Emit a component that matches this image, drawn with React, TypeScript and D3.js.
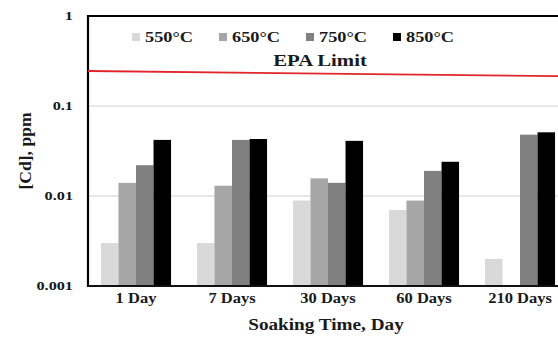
import React from "react";
import * as d3 from "d3";

const categories = ["1 Day", "7 Days", "30 Days", "60 Days", "210 Days"];
const seriesNames = ["550°C", "650°C", "750°C", "850°C"];
const seriesColors = ["#d9d9d9", "#a6a6a6", "#808080", "#000000"];
const s550 = [0.003, 0.003, 0.0089, 0.007, 0.002];
const s650 = [0.014, 0.013, 0.0157, 0.0089, null];
const s750 = [0.022, 0.042, 0.014, 0.019, 0.048];
const s850 = [0.042, 0.043, 0.041, 0.024, 0.051];
const seriesValues = [s550, s650, s750, s850];
const yTicks = [1, 0.1, 0.01, 0.001];
const yTickLabels = ["1", "0.1", "0.01", "0.001"];
const epaLimit = [0.245, 0.215];

const W = 558;
const H = 338;
const left = 88;
const top = 16;
const bottom = 286;
const right = 568;
const font = "'Liberation Serif', 'Times New Roman', serif";

function T(props: { x: number; y: number; size: number; anchor?: string; sx?: number; rot?: number; children: React.ReactNode }) {
  const sx = props.sx ?? 1.22;
  const rot = props.rot ? ` rotate(${props.rot})` : "";
  return (
    <text
      transform={`translate(${props.x},${props.y})${rot} scale(${sx},1)`}
      textAnchor={props.anchor ?? "start"}
      fontFamily={font}
      fontWeight="bold"
      fontSize={props.size}
      fill="#1a1a1a"
    >
      {props.children}
    </text>
  );
}

export default function App() {
  const y = d3.scaleLog().domain([0.001, 1]).range([bottom, top]);
  const x0 = d3.scaleBand().domain(categories).range([left, right]).paddingInner(0.27).paddingOuter(0.135);
  const x1 = d3.scaleBand().domain(seriesNames).range([0, x0.bandwidth()]);
  const legendX = [132, 219, 306, 393];
  return (
    <div style={{ position: "fixed", left: 0, top: 0 }}>
      <svg width={W} height={H} style={{ display: "block", background: "#fff" }}>
        {yTicks.slice(1, 3).map((t) => (
          <line key={t} x1={left} x2={W} y1={y(t)} y2={y(t)} stroke="#d0d0d0" strokeWidth={1} />
        ))}
        {seriesValues.map((vals, si) =>
          vals.map((v, ci) =>
            v == null ? null : (
              <rect
                key={si + "-" + ci}
                x={(x0(categories[ci]) as number) + (x1(seriesNames[si]) as number)}
                y={y(v)}
                width={x1.bandwidth()}
                height={bottom - y(v)}
                fill={seriesColors[si]}
              />
            )
          )
        )}
        <line x1={left} x2={W} y1={top} y2={top} stroke="#000" strokeWidth={2} />
        <line x1={left} x2={left} y1={top - 1} y2={bottom + 1} stroke="#000" strokeWidth={2.2} />
        <line x1={left} x2={W} y1={bottom} y2={bottom} stroke="#111" strokeWidth={2} />
        <line x1={left} x2={W} y1={y(epaLimit[0])} y2={y(epaLimit[1])} stroke="#e0262b" strokeWidth={1.8} />
        <T x={320} y={66} size={16} anchor="middle" sx={1.3}>EPA Limit</T>
        {seriesNames.map((n, i) => (
          <g key={n}>
            <rect x={legendX[i]} y={33} width={8} height={8} fill={seriesColors[i]} />
            <T x={legendX[i] + 13} y={42} size={15}>{n}</T>
          </g>
        ))}
        {yTicks.map((t, i) => (
          <T key={t} x={73} y={y(t) + 4} size={13} anchor="end" sx={1.25}>
            {yTickLabels[i]}
          </T>
        ))}
        {categories.map((c) => (
          <T key={c} x={(x0(c) as number) + x0.bandwidth() / 2} y={303} size={14} anchor="middle" sx={1.18}>
            {c}
          </T>
        ))}
        <T x={326} y={330} size={16} anchor="middle" sx={1.2}>Soaking Time, Day</T>
        <T x={31} y={151} size={16} anchor="middle" rot={-90} sx={1.1}>[Cd], ppm</T>
      </svg>
    </div>
  );
}
